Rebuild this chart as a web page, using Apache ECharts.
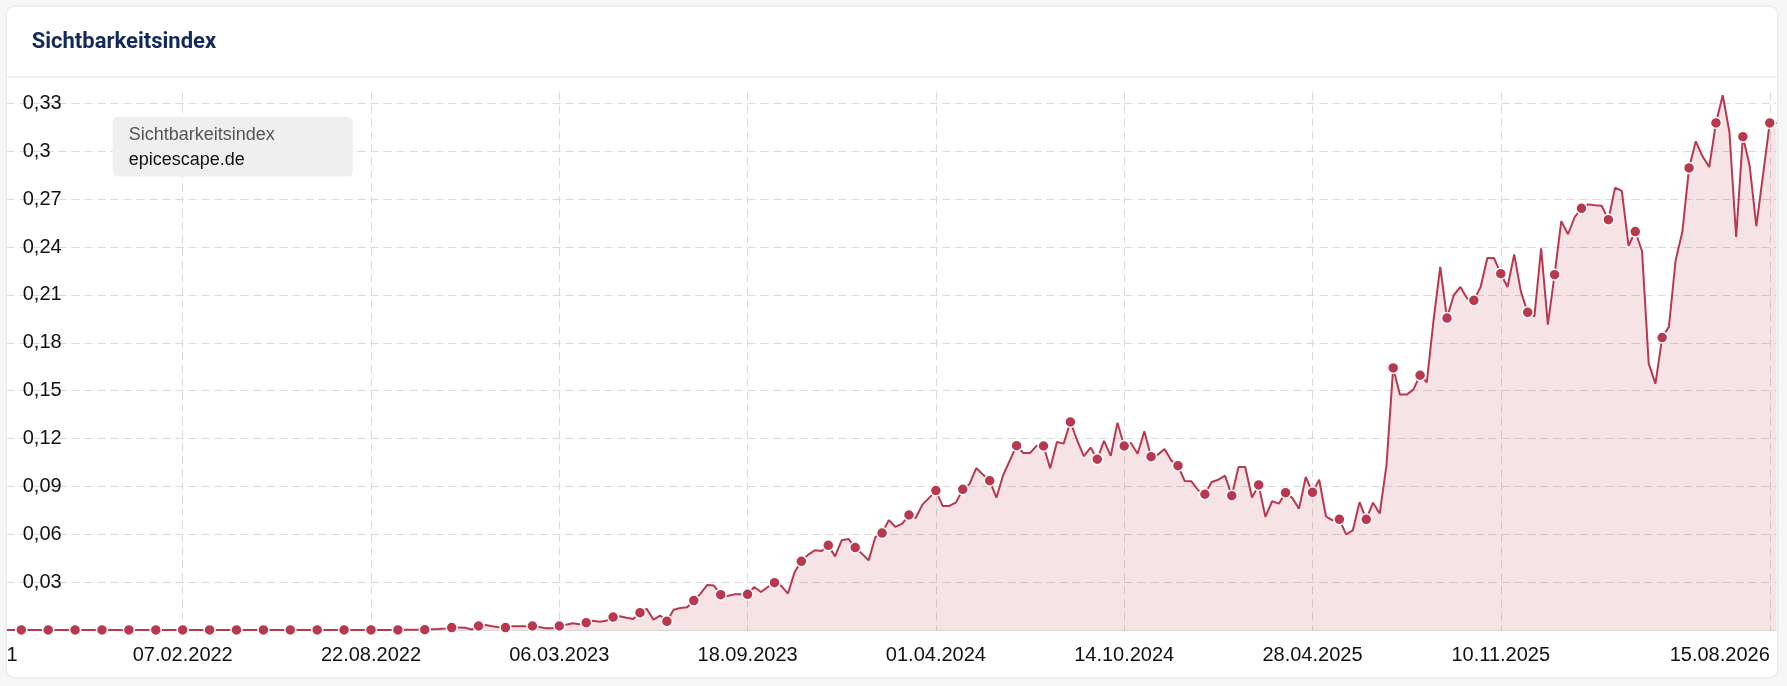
<!DOCTYPE html>
<html><head><meta charset="utf-8">
<script src="https://cdn.jsdelivr.net/npm/echarts@6/dist/echarts.min.js"></script>
<style>
html,body{margin:0;padding:0;background:#f6f6f6;width:1787px;height:686px;overflow:hidden;}
#card{position:absolute;left:7px;top:7px;width:1770px;height:670px;background:#fff;border-radius:8px;box-shadow:0 0 3px rgba(0,0,0,0.14);overflow:hidden;}
#sep{position:absolute;left:0;top:69px;width:100%;height:2px;background:#eeeeee;}
#chart{position:absolute;left:-50px;top:0;width:1900px;height:670px;}
</style></head>
<body><div id="card"><div id="sep"></div><div id="chart"></div></div>
<script>
// ---- data (weekly Sichtbarkeitsindex values) ----
const chartTitle = 'Sichtbarkeitsindex';
const seriesName = 'epicescape.de';
const startDate = [2021, 6, 28]; // first weekly category (Y, M, D)

const valuesEarly = [
  0.0002,0.0002,0.0002,0.0002,0.0002,0.0002,0.0002,0.0002,0.0002,0.0002,
  0.0002,0.0002,0.0002,0.0002,0.0002,0.0002,0.0002,0.0002,0.0002,0.0002,
  0.0002,0.0002,0.0002,0.0002,0.0002,0.0002,0.0002,0.0002,0.0002,0.0002,
  0.0002,0.0002,0.0002,0.0002,0.0002,0.0002,0.0002,0.0002,0.0002,0.0002,
  0.0002,0.0002,0.0002,0.0002,0.0002,0.0002,0.0002,0.0002,0.0002,0.0002,
  0.0002,0.0002,0.0002,0.0002,0.0002,0.0002,0.0002,0.0002,0.0002,0.0002,
  0.0002,0.0002,0.0002,0.0002,0.0002,
  0.0003,0.0003,0.0004,0.0004,0.0006,0.0008,0.0012
];
const values2023 = [
  0.0017,0.0017,0.0016,0.0005,
  0.0027,0.0033,0.0025,0.0019,0.0017,0.0025,0.0025,0.0025,0.0027,0.0020,
  0.0013,0.0013,0.0027,0.0035,0.0044,0.0038,0.0048,0.0060,0.0054,0.0060,
  0.0083,0.0088,0.0079,0.0071,0.0110,0.0134,0.0067,0.0092,0.0056,0.0129,
  0.0140,0.0144,0.0186,0.0230,0.0284,0.0280,0.0223,0.0215,0.0225,0.0225,
  0.0225,0.0271,0.0240,0.0271,0.0298,0.0278,0.0230,0.0365,0.0432,0.0474,
  0.0501,0.0497,0.0532,0.0463,0.0564,0.0572,0.0518,0.0480,0.0438,0.0584
];
const values2024 = [
  0.0609,0.0690,0.0647,0.0668,0.0722,0.0703,0.0787,0.0829,0.0875,0.0779,
  0.0779,0.0801,0.0883,0.0916,0.1016,0.0975,0.0937,0.0831,0.0971,0.1064,
  0.1156,0.1110,0.1110,0.1156,0.1154,0.1014,0.1179,0.1169,0.1305,0.1190,
  0.1090,0.1144,0.1071,0.1186,0.1092,0.1300,0.1154,0.1173,0.1106,0.1246,
  0.1087,0.1100,0.1135,0.1064,0.1031,0.0935,0.0933,0.0877,0.0852,0.0929,
  0.0943,0.0968,0.0843,0.1023,0.1023,0.0831,0.0910,0.0710,0.0808,0.0793
];
const values2025 = [
  0.0862,0.0829,0.0762,0.0960,0.0864,0.0943,0.0714,0.0689,0.0695,0.0601,
  0.0626,0.0802,0.0695,0.0799,0.0731,0.1033,0.1643,0.1476,0.1476,0.1507,
  0.1597,0.1553,0.1941,0.2275,0.1955,0.2098,0.2150,0.2077,0.2066,0.2150,
  0.2331,0.2331,0.2233,0.2150,0.2354,0.2119,0.1991,0.1966,0.2392,0.1914,
  0.2227,0.2562,0.2480,0.2588,0.2642,0.2667,0.2661,0.2659,0.2571,0.2772,
  0.2751,0.2408,0.2497,0.2375,0.1670,0.1545,0.1833,0.1900,0.2317,0.2494,
  0.2895,0.3062,0.2968,0.2901,0.3177,0.3350,0.3120,0.2463,0.3091,0.2912,
  0.2530,0.2853,0.3177,0.3177
];
const tickIndex  = [0, 32, 60, 88, 116, 144, 172, 200, 228, 268];
const tickLabels = ['28.06.2021','07.02.2022','22.08.2022','06.03.2023','18.09.2023',
                    '01.04.2024','14.10.2024','28.04.2025','10.11.2025','15.08.2026'];
const yTickStep = 0.03;

// ---- build ----
const values = valuesEarly.concat(values2023, values2024, values2025);
const pad = n => (n < 10 ? '0' : '') + n;
const t0 = Date.UTC(startDate[0], startDate[1] - 1, startDate[2]);
const categories = values.map((_, i) => {
  const d = new Date(t0 + i * 7 * 86400000);
  return pad(d.getUTCDate()) + '.' + pad(d.getUTCMonth() + 1) + '.' + d.getUTCFullYear();
});
const LINE = '#b8394f';
const seriesData = values.map((v, i) => (i % 4 === 0 ? v : { value: v, symbol: 'none' }));
const showTick = idx => tickIndex.indexOf(idx) !== -1;
const FONT = "'Liberation Sans', Helvetica, Arial, sans-serif";

const chart = echarts.init(document.getElementById('chart'), null, { renderer: 'canvas' });
chart.setOption({
  animation: false,
  title: {
    text: chartTitle, left: 74.7, top: 24, padding: 0,
    textStyle: { fontFamily: 'Roboto', fontWeight: 700, fontSize: 22, color: '#13295a' }
  },
  legend: {
    show: true, left: 155.7, top: 109.7, icon: 'none', itemWidth: 0, itemHeight: 0,
    selectedMode: false, backgroundColor: '#efefef', borderRadius: 5,
    padding: [9.4, 78, 7.5, 11], data: [seriesName],
    formatter: name => '{a|' + chartTitle + '}\n{b|' + name + '}',
    textStyle: {
      rich: {
        a: { fontSize: 18, color: '#555', lineHeight: 25, fontFamily: FONT },
        b: { fontSize: 18, color: '#111', lineHeight: 25, fontFamily: FONT }
      }
    }
  },
  grid: { left: 10.5, top: 85.3, width: 1809, height: 538, containLabel: false, outerBoundsMode: 'none' },
  xAxis: {
    type: 'category', data: categories, boundaryGap: false,
    axisTick: { show: false },
    axisLine: { show: true, lineStyle: { color: '#dcdcdc', width: 1 } },
    axisLabel: {
      interval: (idx) => showTick(idx),
      formatter: (val, idx) => tickLabels[tickIndex.indexOf(idx)] || '',
      fontSize: 20, color: '#111', fontFamily: FONT, margin: 15,
      alignMaxLabel: 'right', hideOverlap: false
    },
    splitLine: { show: true, interval: (idx) => showTick(idx),
      lineStyle: { color: '#d9d9d9', type: [8, 5], width: 1 } }
  },
  yAxis: {
    type: 'value', min: 0, max: 0.33688, interval: yTickStep,
    axisLine: { show: false }, axisTick: { show: false },
    axisLabel: {
      inside: true, margin: 55.2, fontSize: 20, color: '#111', fontFamily: FONT,
      showMinLabel: false, showMaxLabel: false,
      formatter: v => String(+v.toFixed(2)).replace('.', ',')
    },
    splitLine: { show: true, showMaxLine: false, showMinLine: false,
      lineStyle: { color: '#d9d9d9', type: [8, 5], width: 1 } }
  },
  series: [{
    type: 'line', name: seriesName, data: seriesData,
    showAllSymbol: true, symbol: 'circle', symbolSize: 11,
    lineStyle: { color: LINE, width: 2 },
    itemStyle: { color: LINE, borderColor: '#fff', borderWidth: 1.5 },
    areaStyle: { color: 'rgba(184,57,79,0.2)' },
    emphasis: { disabled: true }, silent: true
  }]
});
</script>
</body></html>
